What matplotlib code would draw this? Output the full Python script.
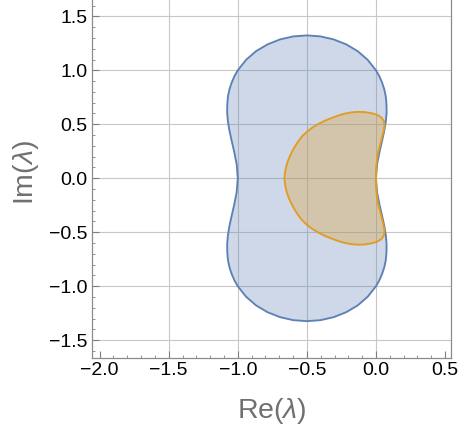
import matplotlib
matplotlib.use("Agg")
import matplotlib.pyplot as plt
import numpy as np

plt.rcParams['font.family'] = ['Liberation Sans', 'DejaVu Sans']
plt.rcParams['mathtext.fontset'] = 'custom'
plt.rcParams['mathtext.rm'] = 'Liberation Sans'
plt.rcParams['mathtext.it'] = 'Liberation Sans:italic'

# Upper half of blue region boundary (Re, Im), from (0,0) round the top to (-1,0)
blue_re = [0.000, 0.008, 0.026, 0.045, 0.061, 0.072, 0.077, 0.076, 0.071, 0.060, 0.044, 0.024,
           0.000, -0.060, -0.132, -0.215, -0.306, -0.402, -0.500,
           -0.598, -0.694, -0.785, -0.868, -0.940, -1.000, -1.024, -1.044, -1.060, -1.071,
           -1.076, -1.077, -1.072, -1.061, -1.045, -1.026, -1.008, -1.000]
blue_im = [0.000, 0.129, 0.246, 0.351, 0.446, 0.532, 0.613, 0.688, 0.759, 0.825, 0.887, 0.946,
           1.000, 1.097, 1.177, 1.240, 1.286, 1.314, 1.323,
           1.314, 1.286, 1.240, 1.177, 1.097, 1.000, 0.946, 0.887, 0.825, 0.759,
           0.688, 0.613, 0.532, 0.446, 0.351, 0.246, 0.129, 0.000]

# Upper half of orange region boundary (Re, Im), from (0,0) round the top to the left end
orange_re = [0.000, 0.002, 0.014, 0.036, 0.050, 0.058, 0.062, 0.058, 0.040, 0.008, -0.040,
             -0.090, -0.137, -0.186, -0.234, -0.280, -0.325, -0.372, -0.417, -0.460,
             -0.499, -0.537, -0.569, -0.597, -0.619, -0.637, -0.650, -0.658, -0.663]
orange_im = [0.000, 0.108, 0.231, 0.339, 0.410, 0.455, 0.492, 0.528, 0.562, 0.588, 0.605,
             0.614, 0.615, 0.609, 0.596, 0.578, 0.556, 0.532, 0.503, 0.470,
             0.432, 0.385, 0.330, 0.272, 0.216, 0.162, 0.108, 0.054, 0.000]

x_ticks = [-2.0, -1.5, -1.0, -0.5, 0.0, 0.5]
y_ticks = [-1.5, -1.0, -0.5, 0.0, 0.5, 1.0, 1.5]
x_grid = [-1.5, -1.0, -0.5, 0.0]
y_grid = [-1.5, -1.0, -0.5, 0.0, 0.5, 1.0, 1.5]

BLUE = '#5e81b5'
ORANGE = '#e19c24'

def closed(re, im):
    re = np.asarray(re); im = np.asarray(im)
    xs = np.concatenate([re, re[-2:0:-1]])
    ys = np.concatenate([im, -im[-2:0:-1]])
    return xs, ys

fig = plt.figure(figsize=(4.59, 4.29), dpi=100)
ax_h = 358.3 / 429 + 0.004
ax = fig.add_axes([92/459, 1 - 358.3/429, (451-92)/459, ax_h])
ax_px_h = ax_h * 429
ax_px_w = 451 - 92

for g in x_grid:
    ax.axvline(g, color='#c8c8c8', lw=0.8, zorder=0)
for g in y_grid:
    ax.axhline(g, color='#c8c8c8', lw=0.8, zorder=0)

bx, by = closed(blue_re, blue_im)
ax.fill(bx, by, facecolor=BLUE, alpha=0.3, edgecolor='none', zorder=1)
ax.plot(np.append(bx, bx[0]), np.append(by, by[0]), color=BLUE, lw=1.35, zorder=3)

ox, oy = closed(orange_re, orange_im)
ax.fill(ox, oy, facecolor=ORANGE, alpha=0.3, edgecolor='none', zorder=2)
ax.plot(np.append(ox, ox[0]), np.append(oy, oy[0]), color=ORANGE, lw=1.35, zorder=4)

ax.set_xlim(-2.055, 0.543)
ax.set_ylim(-1.667, 1.651 + 0.004 * 429 / 108)

ax.set_xticks(x_ticks)
ax.set_yticks(y_ticks)
ax.set_xticklabels(['\u22122.0', '\u22121.5', '\u22121.0', '\u22120.5', '0.0', '0.5'])
ax.set_yticklabels(['\u22121.5', '\u22121.0', '\u22120.5', '0.0', '0.5', '1.0', '1.5'])
ax.set_xticks(np.arange(-2.0, 0.55, 0.1), minor=True)
ax.set_yticks(np.arange(-1.6, 1.65, 0.1), minor=True)
ax.tick_params(which='major', direction='in', length=5, width=0.8, color='#7f7f7f',
               labelsize=14, labelcolor='black', pad=3)
ax.tick_params(which='minor', direction='in', length=2.5, width=0.6, color='#7f7f7f')
ax.tick_params(top=False, right=False, which='both')
for s in ax.spines.values():
    s.set_color('#8c8c8c')
    s.set_linewidth(0.9)

ax.set_xlabel(r'Re($\mathit{\lambda}$)', fontsize=20.5, color='#707070')
ax.xaxis.label.set_va('center')
ax.xaxis.set_label_coords(0.5, -(411 - 358.3) / ax_px_h)
ax.set_ylabel(r'Im($\mathit{\lambda}$)', fontsize=20.5, color='#707070')
ax.yaxis.label.set_va('center')
ax.yaxis.label.set_ha('center')
ax.yaxis.set_label_coords(-(92 - 26) / ax_px_w, (358.3 - 172.5) / ax_px_h)

fig.savefig('out.png', dpi=100)
